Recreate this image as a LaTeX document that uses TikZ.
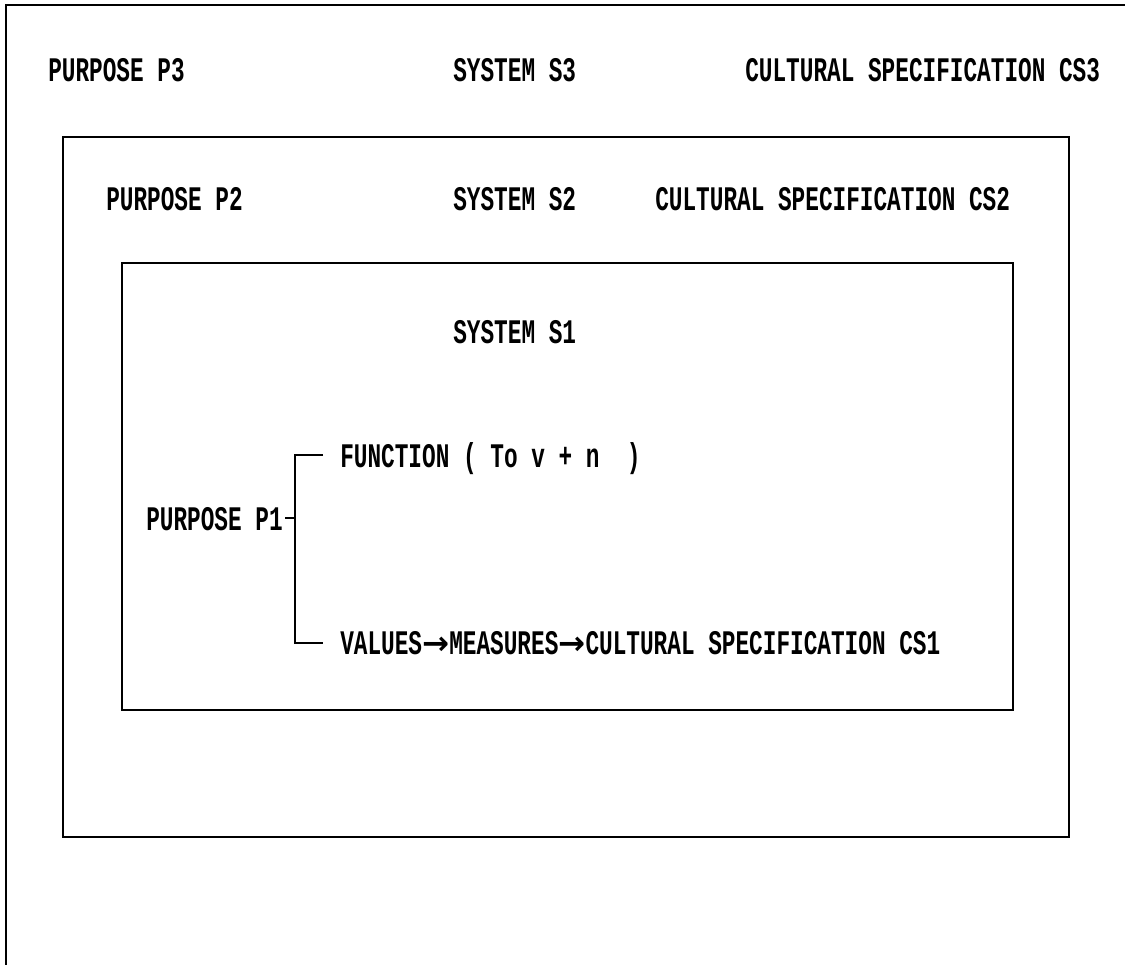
\documentclass[tikz,border=0pt]{standalone}
\usepackage{fontspec}
\newfontfamily\diagfont[FakeStretch=0.66]{Liberation Mono}
\newfontfamily\arrowfont{DejaVu Sans}
\newcommand{\flowarrow}{{\arrowfont\fontsize{23}{28}\selectfont →}}
\usepackage{tikz}
\usetikzlibrary{positioning,calc}
\tikzset{
  frame-line/.style={draw=black,line width=1.3pt},
  frame-box/.style={draw=black,line width=1.3pt},
  label-text/.style={inner sep=0pt,font=\diagfont\bfseries\fontsize{24.5}{28}\selectfont},
  bracket-line/.style={draw=black,line width=1pt},
}

\begin{document}
\begin{tikzpicture}[x=0.025cm,y=-0.025cm]
  \useasboundingbox (0,0) rectangle (1125,965);
  % outer frame, only top and left edges show
  \draw[frame-line] (1125,5) -- (6,5) -- (6,965);
  \draw[frame-box] (63,137) rectangle (1069,837);
  \draw[frame-box] (122,263) rectangle (1013,710);
  % level 3
  \node[label-text,anchor=base west] (p3)  at (48,82)   {PURPOSE P3};
  \node[label-text,anchor=base west] (s3)  at (453,82)  {SYSTEM S3};
  \node[label-text,anchor=base west] (cs3) at (745,82)  {CULTURAL SPECIFICATION CS3};
  % level 2
  \node[label-text,anchor=base west] (p2)  at (106,211) {PURPOSE P2};
  \node[label-text,anchor=base west] (s2)  at (453,211) {SYSTEM S2};
  \node[label-text,anchor=base west] (cs2) at (655,211) {CULTURAL SPECIFICATION CS2};
  % level 1
  \node[label-text,anchor=base west] (s1)  at (453,343) {SYSTEM S1};
  \node[label-text,anchor=base east] (p1)  at (283,530) {PURPOSE P1};
  \node[label-text,anchor=base west] (func) at (340,467) {FUNCTION ( To v + n\ \ )};
  \node[label-text,anchor=base west] (vals) at (340,654) {VALUES\flowarrow MEASURES\flowarrow CULTURAL SPECIFICATION CS1};
  \coordinate (br-top) at ($(func.base west)+(-45,-12)$);
  \draw[bracket-line] ($(func.base west)+(-17,-12)$) -- (br-top) |- ($(vals.base west)+(-17,-11)$);
  \draw[bracket-line] ($(p1.base east)+(2,-12)$) -- (br-top |- {$(p1.base east)+(0,-12)$});
\end{tikzpicture}
\end{document}
